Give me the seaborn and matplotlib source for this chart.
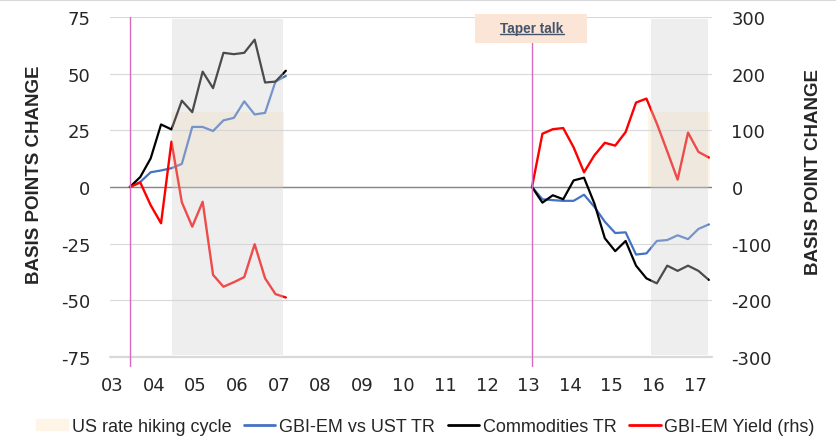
import numpy as np
import pandas as pd
import matplotlib
matplotlib.use("Agg")
import matplotlib.pyplot as plt
import seaborn as sns
from matplotlib.patches import Patch, Rectangle
from matplotlib.lines import Line2D

sns.set_theme(style="white")
plt.rcParams['font.family'] = ['DejaVu Sans']
plt.rcParams['axes.unicode_minus'] = False

# quarterly observations, two windows
dates_early = pd.date_range('2003-06-01', periods=16, freq='3MS')
dates_late = pd.date_range('2013-02-01', periods=18, freq='3MS')

# lhs, basis points change
gbi_vs_ust_early = [0, 2.2, 6.5, 7.3, 8.3, 10.2, 26.5, 26.5, 24.7, 29.4, 30.5, 37.8, 32, 32.7, 46.5, 49]
gbi_vs_ust_late = [0, -5.4, -5.8, -6.1, -6.1, -3.4, -8.8, -15.3, -20.3, -20, -29.8, -29.3, -23.8, -23.4, -21.3, -23, -18.5, -16.5]
commod_early = [0, 4.4, 12.6, 27.6, 25.4, 38.1, 33, 50.9, 43.6, 59.2, 58.6, 59.2, 65, 46.1, 46.5, 51.3]
commod_late = [0, -6.9, -3.65, -5.4, 2.9, 4.1, -7.3, -22.6, -28.3, -23.8, -34.7, -40.3, -42.5, -34.7, -37, -34.7, -37, -41]
# rhs, basis points
yield_early = [0, 8, -32, -64, 80, -27, -70, -26, -155, -176, -168, -159, -101, -161, -189, -195]
yield_late = [0, 94, 102, 104, 70, 26, 56, 78, 73, 97, 149, 156, 112, 63, 13, 96, 62, 52]

hiking_spans = [(2004.41, 2007.13), (2015.88, 2017.35)]
hiking_height = 33.3
grey_spans = [(2004.43, 2007.10), (2015.94, 2017.32)]
grey_height = 74
year_ticks = list(range(2003, 2018))
year_labels = ['03', '04', '05', '06', '07', '08', '09', '10', '11', '12', '13', '14', '15', '16', '17']
taper_label = 'Taper talk'


def dec_year(d):
    return d.year + (d.month - 1) / 12


x_early = [dec_year(d) for d in dates_early]
x_late = [dec_year(d) for d in dates_late]

fig, ax = plt.subplots(figsize=(8.36, 4.39), dpi=100)
fig.subplots_adjust(left=0.1316, right=0.8517, top=0.959, bottom=0.1845)
ax2 = ax.twinx()

blue = '#4472c4'
red = '#ff0000'
beige = '#fef5e7'

for x0, x1 in hiking_spans:
    ax.add_patch(Rectangle((x0, 0), x1 - x0, hiking_height, color=beige, lw=0, zorder=0.5))

ax.axhline(0, color='#868686', lw=1, zorder=1)
ax.axhline(-75, color='#d9d9d9', lw=1.6, zorder=1, clip_on=False)

for xs, b, c in [(x_early, gbi_vs_ust_early, commod_early), (x_late, gbi_vs_ust_late, commod_late)]:
    sns.lineplot(x=xs, y=b, ax=ax, color=blue, lw=1.6, zorder=3)
    sns.lineplot(x=xs, y=c, ax=ax, color='black', lw=1.6, zorder=3)

for xs, y in [(x_early, yield_early), (x_late, yield_late)]:
    sns.lineplot(x=xs, y=y, ax=ax2, color=red, lw=1.7, zorder=3)

# grey boxes sit above the lines and wash them out
for x0, x1 in grey_spans:
    ax2.add_patch(Rectangle((x0, -grey_height * 4), x1 - x0, grey_height * 8,
                            color='#d2d2d2', alpha=0.36, lw=0, zorder=5))

for xv in [x_early[0], x_late[0]]:
    ax2.plot([xv, xv], [-316, 300], color='#d86bc0', lw=1, zorder=6, clip_on=False)

# taper talk label
ax2.add_patch(Rectangle((2011.71, 254), 2.69, 51, color='#fbe5d6', lw=0, zorder=7, clip_on=False))
tt = ax2.text(x_late[0], 281, taper_label, ha='center', va='center', fontsize=9.8,
              fontweight='bold', color='#44546a', family='Liberation Sans', zorder=8)

ax.set_xlim(2002.94, 2017.41)
ax.set_ylim(-75, 75)
ax2.set_ylim(-300, 300)
ax.set_yticks([-75, -50, -25, 0, 25, 50, 75])
ax2.set_yticks([-300, -200, -100, 0, 100, 200, 300])
ax.set_xticks(year_ticks)
ax.set_xticklabels(year_labels)
ax.yaxis.grid(True, color='#d9d9d9', lw=0.8)
ax.xaxis.grid(False)
ax.set_axisbelow(True)
for a in (ax, ax2):
    for s in a.spines.values():
        s.set_visible(False)
    a.tick_params(length=0, labelsize=13, pad=14)
ax.tick_params(axis='x', pad=14)

fig.text(35 / 836, 1 - 175 / 439, 'BASIS POINTS CHANGE', rotation=90, ha='center', va='center',
         fontsize=13.5, fontweight='bold', family='Liberation Sans')
fig.text(813 / 836, 1 - 172 / 439, 'BASIS POINT CHANGE', rotation=90, ha='center', va='center',
         fontsize=13.5, fontweight='bold', family='Liberation Sans')

handles = [Patch(color=beige, label='US rate hiking cycle'),
           Line2D([], [], color=blue, lw=2, label='GBI-EM vs UST TR'),
           Line2D([], [], color='black', lw=2, label='Commodities TR'),
           Line2D([], [], color=red, lw=2, label='GBI-EM Yield (rhs)')]
fig.legend(handles=handles, loc='center', bbox_to_anchor=(0.509, 0.027), ncol=4, frameon=False,
           prop={'family': 'Liberation Sans', 'size': 13}, handlelength=1.75, handleheight=0.6,
           handletextpad=0.2, columnspacing=0.7)

fig.add_artist(Line2D([0, 1], [1 - 1 / 439, 1 - 1 / 439], color='#d9d9d9', lw=1.5,
                      transform=fig.transFigure))

# underline the taper talk label
fig.canvas.draw()
bb = tt.get_window_extent(fig.canvas.get_renderer()).transformed(fig.transFigure.inverted())
fig.add_artist(Line2D([bb.x0, bb.x1], [bb.y0 + 0.002, bb.y0 + 0.002], color='#44546a', lw=1,
                      transform=fig.transFigure, zorder=10))

fig.savefig('out.png', dpi=100)
